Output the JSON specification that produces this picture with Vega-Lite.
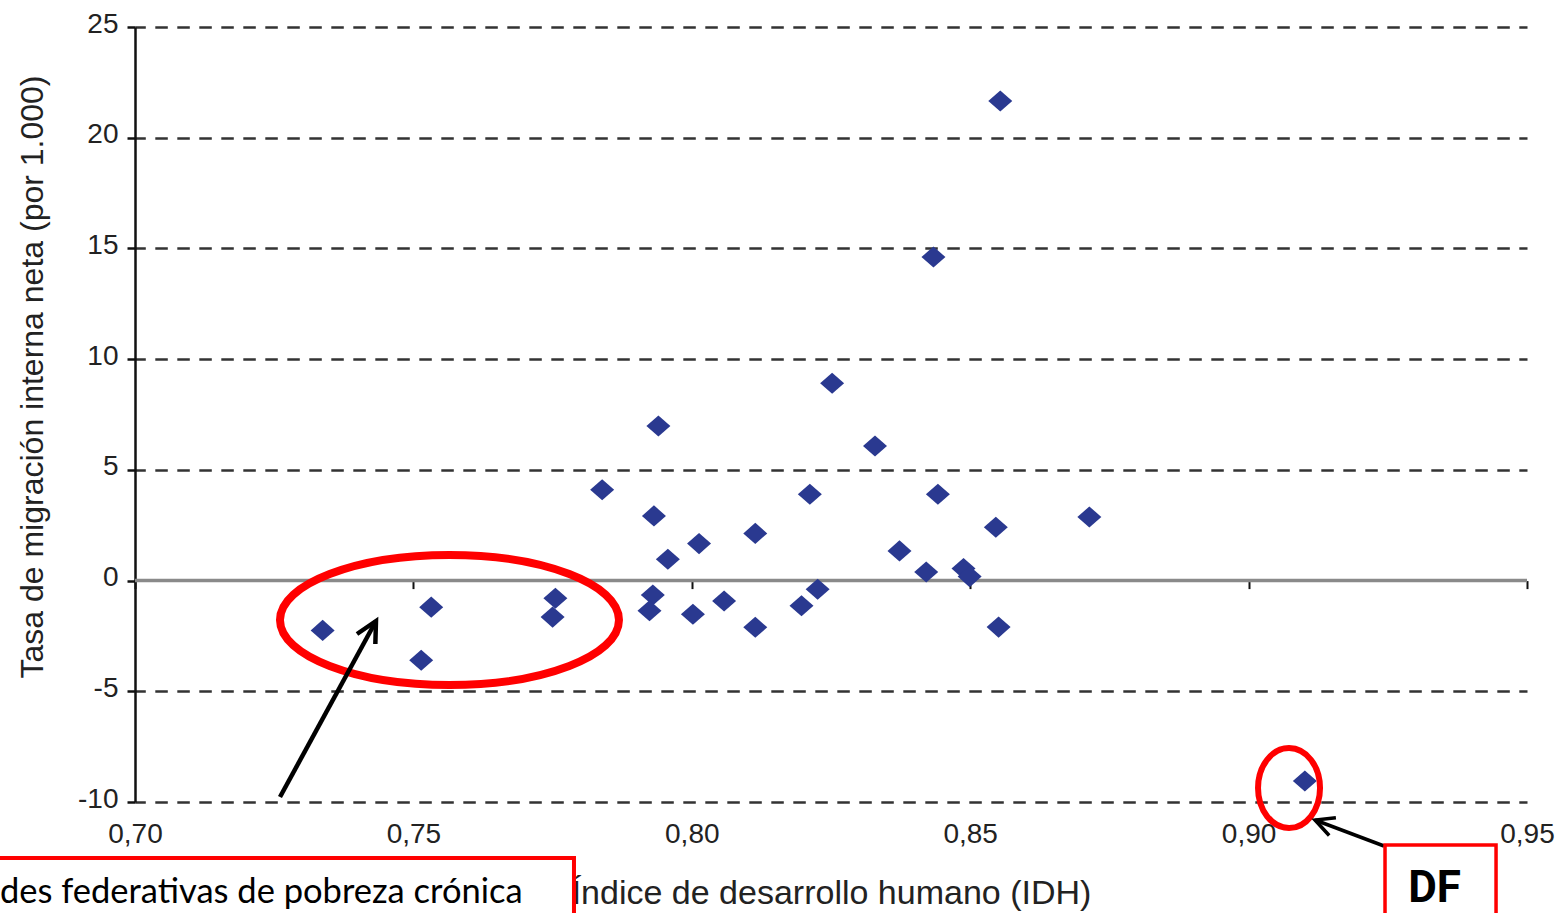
{
  "$schema": "https://vega.github.io/schema/vega-lite/v6.json",
  "width": 1392,
  "height": 775,
  "autosize": {"type": "none"},
  "padding": {"left": 135, "top": 27, "right": 35, "bottom": 111},
  "background": "white",
  "config": {"view": {"stroke": null}, "font": "Liberation Sans"},
  "datasets": {
    "pts": [
      {"idh": 0.7337, "tasa": -2.25},
      {"idh": 0.7514, "tasa": -3.6},
      {"idh": 0.7532, "tasa": -1.2},
      {"idh": 0.7755, "tasa": -0.8},
      {"idh": 0.7750, "tasa": -1.65},
      {"idh": 0.7839, "tasa": 4.1},
      {"idh": 0.7940, "tasa": 6.98},
      {"idh": 0.7932, "tasa": 2.92},
      {"idh": 0.7957, "tasa": 0.96},
      {"idh": 0.7930, "tasa": -0.65},
      {"idh": 0.7924, "tasa": -1.36},
      {"idh": 0.8013, "tasa": 1.67},
      {"idh": 0.8002, "tasa": -1.52},
      {"idh": 0.8058, "tasa": -0.92},
      {"idh": 0.8114, "tasa": 2.13},
      {"idh": 0.8114, "tasa": -2.11},
      {"idh": 0.8212, "tasa": 3.9},
      {"idh": 0.8197, "tasa": -1.14},
      {"idh": 0.8226, "tasa": -0.39},
      {"idh": 0.8252, "tasa": 8.91},
      {"idh": 0.8329, "tasa": 6.08},
      {"idh": 0.8434, "tasa": 14.61},
      {"idh": 0.8442, "tasa": 3.9},
      {"idh": 0.8373, "tasa": 1.34},
      {"idh": 0.8421, "tasa": 0.39},
      {"idh": 0.8488, "tasa": 0.54},
      {"idh": 0.8499, "tasa": 0.18},
      {"idh": 0.8546, "tasa": 2.41},
      {"idh": 0.8551, "tasa": -2.1},
      {"idh": 0.8554, "tasa": 21.66},
      {"idh": 0.8714, "tasa": 2.87},
      {"idh": 0.9101, "tasa": -9.05}
    ],
    "one": [{"k": 1}]
  },
  "resolve": {"axis": {"x": "independent", "y": "independent"}},
  "layer": [
    {
      "data": {"name": "one"},
      "mark": {"type": "rule", "color": "#8a8a8a", "strokeWidth": 3.5},
      "encoding": {
        "x": {"datum": 0.70, "type": "quantitative", "scale": {"domain": [0.70, 0.95], "nice": false, "zero": false},
          "axis": {"orient": "bottom", "offset": -221.4, "values": [0.70, 0.75, 0.80, 0.85, 0.90, 0.95], "labels": false, "domain": false, "grid": false, "ticks": true, "tickSize": 8, "tickWidth": 2, "tickColor": "#111111", "title": null}},
        "x2": {"datum": 0.95},
        "y": {"datum": 0, "type": "quantitative", "scale": {"domain": [-10, 25], "nice": false, "zero": false}, "axis": null}
      }
    },
    {
      "data": {"name": "pts"},
      "mark": {"type": "point", "shape": "M0,-0.88 L1,0 L0,0.88 L-1,0 Z", "size": 576, "filled": true, "color": "#2a3990", "opacity": 1},
      "encoding": {
        "x": {"field": "idh", "type": "quantitative", "scale": {"domain": [0.70, 0.95], "nice": false, "zero": false},
          "axis": {"orient": "bottom", "offset": 0, "values": [0.70, 0.75, 0.80, 0.85, 0.90, 0.95], "domain": false, "ticks": false, "grid": false, "labelFlush": false, "labelOverlap": false,
            "labelExpr": "replace(format(datum.value, '.2f'), '.', ',')", "labelFont": "Liberation Sans", "labelFontSize": 28, "labelColor": "#222222", "labelPadding": 18,
            "title": "Índice de desarrollo humano (IDH)", "titleFont": "Liberation Sans", "titleFontSize": 34, "titleFontWeight": "normal", "titleColor": "#222222",
            "titleX": 696, "titleY": 101, "titleAlign": "center", "titleBaseline": "alphabetic"}},
        "y": {"field": "tasa", "type": "quantitative", "scale": {"domain": [-10, 25], "nice": false, "zero": false},
          "axis": {"orient": "left", "values": [-10, -5, 0, 5, 10, 15, 20, 25], "labelFlush": false, "labelOverlap": false,
            "labelExpr": "datum.value < 0 ? '-' + abs(datum.value) : '' + datum.value",
            "grid": true, "gridColor": "#333333", "gridDash": [12.5, 9.5], "gridDashOffset": 2.2, "gridWidth": 2.5,
            "gridOpacity": {"condition": {"test": "datum.value === 0", "value": 0}, "value": 1},
            "domain": true, "domainColor": "#111111", "domainWidth": 2.5,
            "ticks": true, "tickSize": 8, "tickColor": "#111111", "tickWidth": 2.5,
            "labelFont": "Liberation Sans", "labelFontSize": 28, "labelColor": "#222222", "labelPadding": 9, "labelOffset": -3,
            "title": "Tasa de migración interna neta (por 1.000)", "titleFont": "Liberation Sans", "titleFontSize": 32, "titleFontWeight": "normal", "titleColor": "#222222",
            "titleAngle": 270, "titleX": -93, "titleY": 349.5, "titleAlign": "center", "titleBaseline": "alphabetic"}}
      }
    },
    {
      "data": {"name": "one"},
      "mark": {"type": "point", "shape": "M1,0 C1,0.2118 0.5523,0.3835 0,0.3835 C-0.5523,0.3835 -1,0.2118 -1,0 C-1,-0.2118 -0.5523,-0.3835 0,-0.3835 C0.5523,-0.3835 1,-0.2118 1,0 Z", "size": 114921, "filled": false, "stroke": "#ff0000", "strokeWidth": 8, "opacity": 1},
      "encoding": {
        "x": {"datum": 0.75648, "type": "quantitative", "axis": null},
        "y": {"datum": -1.781, "type": "quantitative", "axis": null}
      }
    },
    {
      "data": {"name": "one"},
      "mark": {"type": "point", "shape": "M0.775,0 C0.775,0.5523 0.428,1 0,1 C-0.428,1 -0.775,0.5523 -0.775,0 C-0.775,-0.5523 -0.428,-1 0,-1 C0.428,-1 0.775,-0.5523 0.775,0 Z", "size": 6400, "filled": false, "stroke": "#ff0000", "strokeWidth": 6, "opacity": 1},
      "encoding": {
        "x": {"datum": 0.90726, "type": "quantitative", "axis": null},
        "y": {"datum": -9.368, "type": "quantitative", "axis": null}
      }
    },
    {
      "data": {"name": "one"},
      "mark": {"type": "rule", "color": "#000000", "strokeWidth": 4.5},
      "encoding": {
        "x": {"datum": 0.72604, "type": "quantitative", "axis": null},
        "y": {"datum": -9.774, "type": "quantitative", "axis": null},
        "x2": {"datum": 0.74328},
        "y2": {"datum": -1.826}
      }
    },
    {
      "data": {"name": "one"},
      "mark": {"type": "point", "shape": "M-1,-0.51 L0,0 L-1,0.51", "size": 1681, "angle": 298.6, "filled": false, "stroke": "#000000", "strokeWidth": 4.5, "opacity": 1, "strokeJoin": "miter"},
      "encoding": {
        "x": {"datum": 0.74328, "type": "quantitative", "axis": null},
        "y": {"datum": -1.826, "type": "quantitative", "axis": null}
      }
    },
    {
      "data": {"name": "one"},
      "mark": {"type": "rule", "color": "#000000", "strokeWidth": 3.5},
      "encoding": {
        "x": {"datum": 0.92432, "type": "quantitative", "axis": null},
        "y": {"datum": -11.987, "type": "quantitative", "axis": null},
        "x2": {"datum": 0.91193},
        "y2": {"datum": -10.813}
      }
    },
    {
      "data": {"name": "one"},
      "mark": {"type": "point", "shape": "M-1,-0.51 L0,0 L-1,0.51", "size": 1400, "angle": 200.6, "filled": false, "stroke": "#000000", "strokeWidth": 3.5, "opacity": 1, "strokeJoin": "miter"},
      "encoding": {
        "x": {"datum": 0.91193, "type": "quantitative", "axis": null},
        "y": {"datum": -10.813, "type": "quantitative", "axis": null}
      }
    },
    {
      "data": {"name": "one"},
      "mark": {"type": "rect", "fill": "transparent", "stroke": "#ff0000", "strokeWidth": 4},
      "encoding": {
        "x": {"datum": 0.67396, "type": "quantitative", "axis": null},
        "x2": {"datum": 0.77884},
        "y": {"datum": -12.529, "type": "quantitative", "axis": null},
        "y2": {"datum": -15.78}
      }
    },
    {
      "data": {"name": "one"},
      "mark": {"type": "rect", "fill": "transparent", "stroke": "#ff0000", "strokeWidth": 3.5},
      "encoding": {
        "x": {"datum": 0.92450, "type": "quantitative", "axis": null},
        "x2": {"datum": 0.94444},
        "y": {"datum": -11.942, "type": "quantitative", "axis": null},
        "y2": {"datum": -15.78}
      }
    },
    {
      "data": {"name": "one"},
      "mark": {"type": "text", "text": "des federativas de pobreza crónica", "font": "Lato", "fontSize": 34.5, "color": "#000000", "align": "left", "baseline": "alphabetic"},
      "encoding": {
        "x": {"datum": 0.67575, "type": "quantitative", "axis": null},
        "y": {"datum": -14.56, "type": "quantitative", "axis": null}
      }
    },
    {
      "data": {"name": "one"},
      "mark": {"type": "text", "text": "DF", "font": "Roboto", "fontWeight": "bold", "fontSize": 44, "color": "#000000", "align": "center", "baseline": "alphabetic"},
      "encoding": {
        "x": {"datum": 0.93339, "type": "quantitative", "axis": null},
        "y": {"datum": -14.52, "type": "quantitative", "axis": null}
      }
    }
  ]
}
